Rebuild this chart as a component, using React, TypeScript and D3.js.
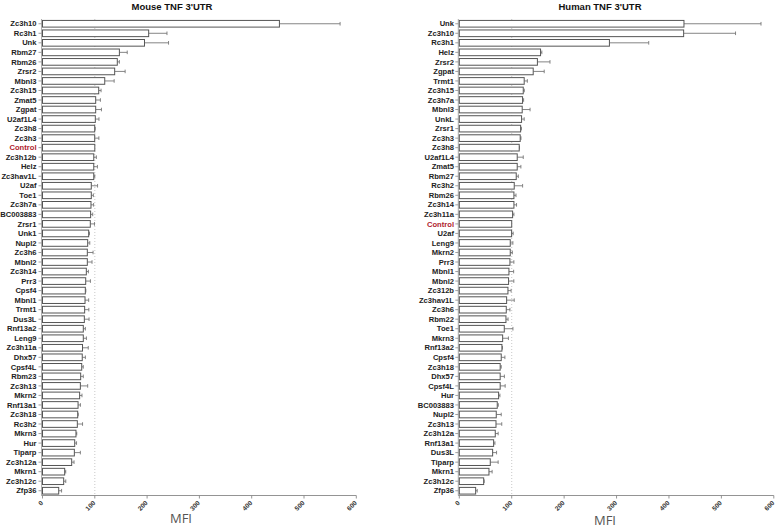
import React from "react";
import * as d3 from "d3";

const mouseGenes = ["Zc3h10","Rc3h1","Unk","Rbm27","Rbm26","Zrsr2","Mbnl3","Zc3h15","Zmat5","Zgpat","U2af1L4","Zc3h8","Zc3h3","Control","Zc3h12b","Helz","Zc3hav1L","U2af","Toe1","Zc3h7a","BC003883","Zrsr1","Unk1","Nupl2","Zc3h6","Mbnl2","Zc3h14","Prr3","Cpsf4","Mbnl1","Trmt1","Dus3L","Rnf13a2","Leng9","Zc3h11a","Dhx57","Cpsf4L","Rbm23","Zc3h13","Mkrn2","Rnf13a1","Zc3h18","Rc3h2","Mkrn3","Hur","Tiparp","Zc3h12a","Mkrn1","Zc3h12c","Zfp36"];
const mouseMFI = [453,203,195,147,143,138,119,107.5,101.7,101.7,101,99.8,99.8,100,98,98,98,93.3,93.3,92.7,92,91.4,88.3,86.4,85.7,85.7,83.8,82.6,81.9,81.3,80.6,80,78,78,76.5,76,75,73,72.4,71,68,67.3,66.6,64,61.6,60.9,55.8,42.4,40.5,31];
const mouseErr = [116,35,46,15,4,20,18,4.5,9,11,7,1,8,0,5,7,2,12,4,5,4,8,1.5,4,11,9,4,9,1,7,8,9,4,6,11,6,3,5,14,4.5,4.5,1,10,1.5,3.5,11.5,4.5,2,4,5.5];

const humanGenes = ["Unk","Zc3h10","Rc3h1","Helz","Zrsr2","Zgpat","Trmt1","Zc3h15","Zc3h7a","Mbnl3","UnkL","Zrsr1","Zc3h3","Zc3h8","U2af1L4","Zmat5","Rbm27","Rc3h2","Rbm26","Zc3h14","Zc3h11a","Control","U2af","Leng9","Mkrn2","Prr3","Mbnl1","Mbnl2","Zc312b","Zc3hav1L","Zc3h6","Rbm22","Toe1","Mkrn3","Rnf13a2","Cpsf4","Zc3h18","Dhx57","Cpsf4L","Hur","BC003883","Nupl2","Zc3h13","Zc3h12a","Rnf13a1","Dus3L","Tiparp","Mkrn1","Zc3h12c","Zfp36"];
const humanMFI = [428.6,428,286.4,155,149,141,123.8,122,120.7,120,118.8,117,116.2,114.3,110.5,110.5,108.6,104.8,104.2,104.2,101.7,100,99.8,97.2,97.2,96.6,94.7,94,92.8,90.3,89.6,89,85.8,82.7,81.3,80,78,78,78,75,72.4,70.5,70,68.6,65.5,63.6,59.1,56.6,46.5,31.2];
const humanErr = [147,99,75,2.5,24,21,6,2,2,15,5,1.5,1.5,0.5,11.5,7,4,16,4,5,2.5,0,3,5,4,7.5,9,10,6,14.5,7,4,16.5,11,1,7,2,8,9.5,2.5,2,9.5,11,5.5,2.5,7.5,15,6,1,3];

const xTicks = [0, 100, 200, 300, 400, 500, 600];

const FONT = "'Liberation Sans', Arial, sans-serif";

type PanelProps = {
  title: string;
  titleX: number;
  labelX: number;
  genes: string[];
  values: number[];
  errs: number[];
  x0: number;
  x1: number;
};

function Panel({ title, titleX, labelX, genes, values, errs, x0, x1 }: PanelProps) {
  const top = 19;
  const axisY = 495.5;
  const x = d3.scaleLinear().domain([0, 600]).range([x0, x1]);
  const y = d3.scaleBand<string>().domain(genes).range([top, axisY]).paddingInner(0.3).paddingOuter(0.15);
  const bw = y.bandwidth();
  return (
    <g>
      <text x={titleX} y={10} textAnchor="middle" fontFamily={FONT} fontWeight="bold" fontSize={9.5} fill="#111">{title}</text>
      <line x1={x(100)} x2={x(100)} y1={top} y2={axisY} stroke="#bbb" strokeWidth={0.8} strokeDasharray="1,2" />
      <line x1={x0 - 1} x2={x0 - 1} y1={top} y2={axisY} stroke="#999" strokeWidth={0.8} />
      {genes.map((g, i) => {
        const cy = (y(g) as number) + bw / 2;
        const v = values[i];
        const e = errs[i];
        return (
          <g key={g + i}>
            <line x1={x0 - 4} x2={x0 - 1} y1={cy} y2={cy} stroke="#888" strokeWidth={0.8} />
            <text x={labelX} y={cy} dy="0.35em" textAnchor="end" fontFamily={FONT} fontWeight="bold" fontSize={7.6} fill={g === "Control" ? "#b01c2e" : "#222"}>{g}</text>
            {e > 0 && (
              <g stroke="#777" strokeWidth={0.9}>
                <line x1={x(v)} x2={x(v + e)} y1={cy} y2={cy} />
                <line x1={x(v + e)} x2={x(v + e)} y1={cy - 1.8} y2={cy + 1.8} />
              </g>
            )}
            <rect x={x(0)} y={y(g)} width={x(v) - x(0)} height={bw} fill="#fff" stroke="#555" strokeWidth={1} />
          </g>
        );
      })}
      <line x1={x0 - 1} x2={x1} y1={axisY} y2={axisY} stroke="#888" strokeWidth={0.9} />
      {xTicks.map((t) => (
        <g key={t}>
          <line x1={x(t)} x2={x(t)} y1={axisY} y2={axisY + 3} stroke="#888" strokeWidth={0.9} />
          <text transform={`translate(${x(t) + 1},${axisY + 8})rotate(-45)`} textAnchor="end" fontFamily={FONT} fontWeight="bold" fontSize={6.5} fill="#333">{t}</text>
        </g>
      ))}
    </g>
  );
}

export default function App() {
  return (
    <svg width={776} height={531} style={{ position: "absolute", left: 0, top: 0, background: "#fff" }}>
      <Panel title="Mouse TNF 3'UTR" titleX={172} labelX={36.5} genes={mouseGenes} values={mouseMFI} errs={mouseErr} x0={42.5} x1={356.3} />
      <Panel title="Human TNF 3'UTR" titleX={600} labelX={454} genes={humanGenes} values={humanMFI} errs={humanErr} x0={459.3} x1={773.8} />
      <text x={181} y={523} textAnchor="middle" fontFamily="'Open Sans', 'Noto Sans', sans-serif" fontSize={13} fill="#555">MFI</text>
      <text x={605} y={525} textAnchor="middle" fontFamily="'Open Sans', 'Noto Sans', sans-serif" fontSize={13} fill="#555">MFI</text>
    </svg>
  );
}
